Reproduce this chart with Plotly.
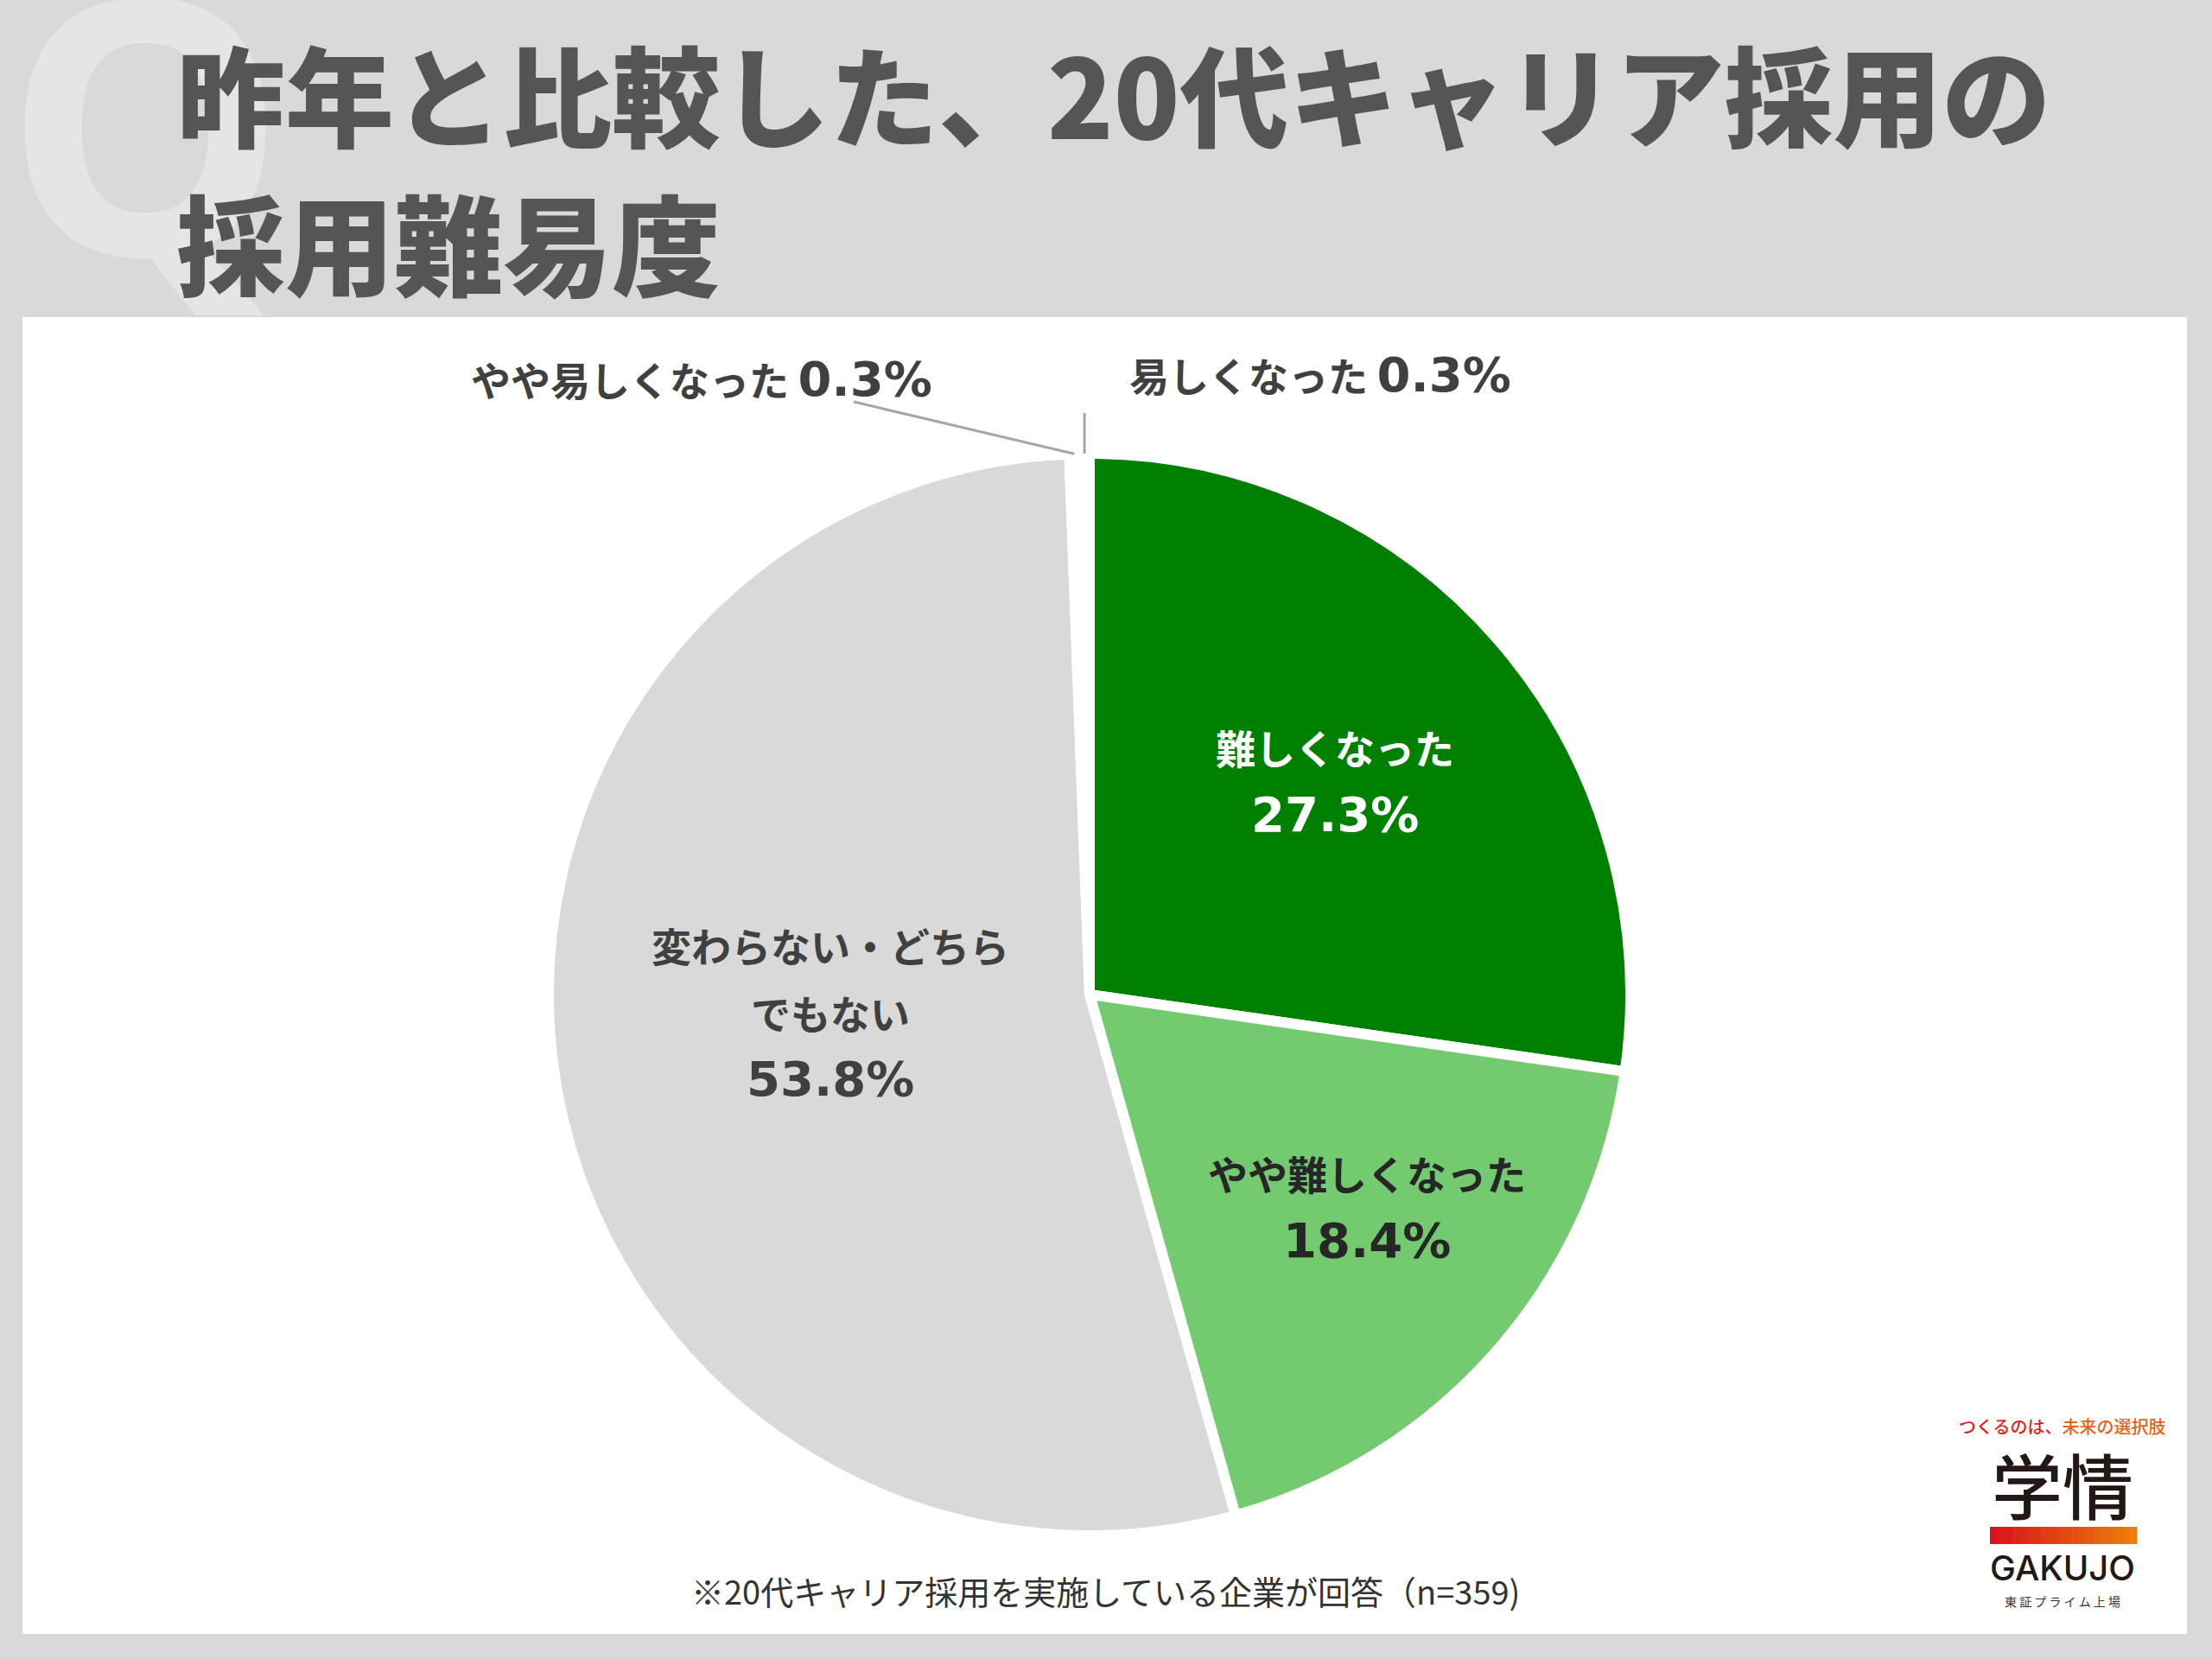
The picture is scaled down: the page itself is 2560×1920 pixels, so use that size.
import numpy as np
import plotly.graph_objects as go

# data (n=359)
categories = ["難しくなった", "やや難しくなった", "変わらない・どちらでもない", "やや易しくなった", "易しくなった"]
shares = [27.3, 18.4, 53.8, 0.3, 0.3]
inside_lines = [["難しくなった"], ["やや難しくなった"], ["変わらない・どちら", "でもない"]]
title_lines = ["昨年と比較した、20代キャリア採用の", "採用難易度"]
note_text = "※20代キャリア採用を実施している企業が回答（n=359)"

# styles
slice_colors = ["#008000", "#73ca6f", "#d9d9d9", "#ffffff", "#ffffff"]
inside_font_colors = ["#ffffff", "#262626", "#404040"]
inside_radius = [0.60, 0.645, 0.485]
inside_nudge = [(0, -2), (18, -21), (0, -27)]

W, H = 2560, 1920
CX, CY, R = 1261, 1151, 626
JP = "Noto Sans CJK JP"
NUM_STYLE = "font-family:'DejaVu Sans';font-size:56px;font-weight:bold"


def px(x):
    return x / W


def py(y):
    return 1 - y / H


def pct(v):
    return f"<span style=\"{NUM_STYLE}\">{v}%</span>"


# slice mid angles (clockwise from 12 o'clock)
total = sum(shares)
ends = np.cumsum(shares) / total * 360
mids = ends - np.array(shares) / total * 360 / 2


def edge(angle, rad):
    a = np.radians(angle)
    return CX + rad * np.sin(a), CY - rad * np.cos(a)


fig = go.Figure()
fig.add_trace(go.Pie(
    labels=categories,
    values=shares,
    sort=False,
    direction="clockwise",
    rotation=0,
    marker=dict(colors=slice_colors, line=dict(color="#ffffff", width=12)),
    textinfo="none",
    hoverinfo="label+value",
    showlegend=False,
    domain=dict(x=[px(CX - R), px(CX + R)], y=[py(CY + R), py(CY - R)]),
))

annotations = []

# big Q watermark
annotations.append(dict(
    x=px(168), y=py(136), xref="paper", yref="paper", text="Q", showarrow=False,
    font=dict(family="Noto Sans", size=410, color="#e5e5e5", weight=700),
    xanchor="center", yanchor="middle",
))

# title
for i, line in enumerate(title_lines):
    annotations.append(dict(
        x=px(202), y=py(106 + 172 * i), xref="paper", yref="paper", text=line,
        showarrow=False, xanchor="left", yanchor="middle",
        font=dict(family=JP, size=126, color="#555555", weight=900),
    ))

# labels inside the slices
LINE_GAP = 78
for i, lines in enumerate(inside_lines):
    lx, ly = edge(mids[i], inside_radius[i] * R)
    lx += inside_nudge[i][0]
    ly += inside_nudge[i][1]
    rows = lines + [pct(shares[i])]
    for j, row in enumerate(rows):
        yy = ly + (j - (len(rows) - 1) / 2) * LINE_GAP
        annotations.append(dict(
            x=px(lx), y=py(yy), xref="paper", yref="paper", text=row,
            showarrow=False, xanchor="center", yanchor="middle",
            font=dict(family=JP, size=46, color=inside_font_colors[i], weight=700),
        ))

# outside labels for the two tiny slices
outside_pos = [(812, 438), (1528, 433)]
for k, i in enumerate([3, 4]):
    annotations.append(dict(
        x=px(outside_pos[k][0]), y=py(outside_pos[k][1]), xref="paper", yref="paper",
        text=f"{categories[i]} {pct(shares[i])}", showarrow=False,
        xanchor="center", yanchor="middle",
        font=dict(family=JP, size=46, color="#404040", weight=700),
    ))

# footnote
annotations.append(dict(
    x=px(1279), y=py(1840), xref="paper", yref="paper", text=note_text,
    showarrow=False, xanchor="center", yanchor="middle",
    font=dict(family=JP, size=38, color="#333333"),
))

# logo texts
annotations += [
    dict(x=px(2387), y=py(1650), xref="paper", yref="paper", showarrow=False,
         text="<span style='color:#d9261c'>つくるのは、</span><span style='color:#e5621a'>未来の選択肢</span>",
         font=dict(family=JP, size=20, weight=500), xanchor="center", yanchor="middle"),
    dict(x=px(2387), y=py(1716), xref="paper", yref="paper", showarrow=False, text="学情",
         font=dict(family=JP, size=82, color="#231815", weight=500), xanchor="center", yanchor="middle"),
    dict(x=px(2387), y=py(1814), xref="paper", yref="paper", showarrow=False, text="GAKUJO",
         font=dict(family="Inter", size=40, color="#231815", weight=500), xanchor="center", yanchor="middle"),
    dict(x=px(2387), y=py(1853), xref="paper", yref="paper", showarrow=False,
         text="東 証 プ ラ イ ム 上 場",
         font=dict(family=JP, size=14, color="#333333"), xanchor="center", yanchor="middle"),
]

shapes = [
    # white panel
    dict(type="rect", xref="paper", yref="paper", x0=px(26), x1=px(2531), y0=py(1891), y1=py(367),
         fillcolor="#ffffff", line=dict(width=0), layer="below"),
]

# leader lines from the tiny slices to their labels
tx, ty = edge(mids[3], R)
shapes.append(dict(type="line", xref="paper", yref="paper", x0=px(tx), y0=py(ty), x1=px(988), y1=py(465),
                   line=dict(color="#a6a6a6", width=3)))
tx, ty = edge(mids[4], R)
shapes.append(dict(type="line", xref="paper", yref="paper", x0=px(tx), y0=py(ty), x1=px(tx), y1=py(478),
                   line=dict(color="#a6a6a6", width=3)))

# logo gradient bar
c0 = np.array([0xd7, 0x14, 0x1b])
c1 = np.array([0xed, 0x7d, 0x0a])
steps = 30
bx0, bx1 = 2303, 2473
for s in range(steps):
    c = (c0 + (c1 - c0) * s / (steps - 1)).astype(int)
    shapes.append(dict(
        type="rect", xref="paper", yref="paper",
        x0=px(bx0 + (bx1 - bx0) * s / steps), x1=px(bx0 + (bx1 - bx0) * (s + 1) / steps + 0.5),
        y0=py(1787), y1=py(1767),
        fillcolor=f"rgb({c[0]},{c[1]},{c[2]})", line=dict(width=0), layer="above",
    ))

fig.update_layout(
    width=W, height=H,
    autosize=False,
    margin=dict(l=0, r=0, t=0, b=0),
    paper_bgcolor="#d9d9d9",
    plot_bgcolor="#d9d9d9",
    annotations=annotations,
    shapes=shapes,
)

fig.write_html("out.html", config={"displayModeBar": False},
               post_script="document.body.style.margin='0px';")
